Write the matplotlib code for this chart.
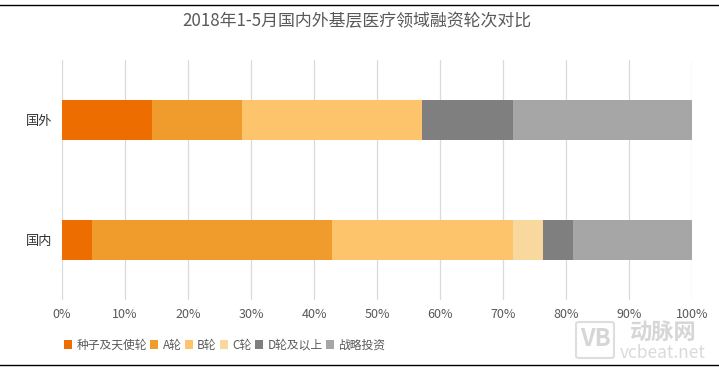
"""
Stacked share chart: funding rounds, domestic vs foreign
"""
import matplotlib
matplotlib.use('Agg')  # Non-interactive backend
import matplotlib.pyplot as plt
from matplotlib.patches import FancyBboxPatch

plt.rcParams['font.family'] = ['Noto Sans CJK SC', 'DejaVu Sans']

categories = ['国内', '国外']
rounds = ['种子及天使轮', 'A轮', 'B轮', 'C轮', 'D轮及以上', '战略投资']
shares = [
    [4.8, 14.3],
    [38.1, 14.3],
    [28.7, 28.5],
    [4.7, 0.0],
    [4.8, 14.5],
    [18.9, 28.4],
]
colours = ['#ED6D00', '#F09C2C', '#FEC46C', '#F8D89C', '#7F7F7F', '#A6A6A6']
ticks = list(range(0, 101, 10))
tick_labels = [f'{t}%' for t in ticks]

W, H = 719, 370
fig = plt.figure(figsize=(W / 100, H / 100), dpi=100)
ax = fig.add_axes([62 / W, 1 - 300 / H, 630 / W, 240 / H])

left = [0.0, 0.0]
for name, vals, col in zip(rounds, shares, colours):
    ax.barh([0, 1], vals, height=1 / 3, left=left, color=col, label=name, zorder=3)
    left = [a + b for a, b in zip(left, vals)]

ax.set_xlim(0, 100)
ax.set_ylim(-0.5, 1.5)
ax.set_yticks([0, 1], categories, fontsize=9.5, color='#333333')
ax.set_xticks(ticks, tick_labels, fontsize=9, color='#595959')
ax.tick_params(axis='both', length=0)
ax.tick_params(axis='x', pad=6)
ax.tick_params(axis='y', pad=7)
ax.grid(axis='x', color='#DADADA', linewidth=0.9, zorder=0)
for side in ax.spines.values():
    side.set_visible(False)

fig.text(357 / W, 1 - 21 / H, '2018年1-5月国内外基层医疗领域融资轮次对比',
         fontsize=12.2, color='#595959', ha='center', va='center')

fig.legend(loc='center left', bbox_to_anchor=(64 / W, 1 - 345 / H), ncol=6, frameon=False,
           fontsize=8.5, labelcolor='#595959', handlelength=0.7, handleheight=0.7,
           handletextpad=0.35, columnspacing=0.28, borderpad=0, borderaxespad=0)

# Black rules at top and bottom of the picture
fig.add_artist(plt.Line2D([0, 1], [1 - 5 / H] * 2, color='black', linewidth=1))
fig.add_artist(plt.Line2D([0, 1], [1 - 364.5 / H] * 2, color='black', linewidth=1))

# Watermark
box = FancyBboxPatch((576 / W, 1 - 358 / H), 38 / W, 36 / H, transform=fig.transFigure,
                     boxstyle='round,pad=0,rounding_size=0.005', fill=False,
                     edgecolor='#DEDEDE', linewidth=1.5)
fig.add_artist(box)
fig.text(595 / W, 1 - 339 / H, 'VB', fontsize=17, fontweight='bold', color='#D6D6D6',
         ha='center', va='center')
fig.text(663 / W, 1 - 333 / H, '动脉网', fontsize=16, fontweight='bold', color='#D6D6D6',
         ha='center', va='center')
fig.text(663 / W, 1 - 353 / H, 'vcbeat.net', fontsize=12.5, color='#DADADA',
         ha='center', va='center')

fig.savefig('out.png', dpi=100)
